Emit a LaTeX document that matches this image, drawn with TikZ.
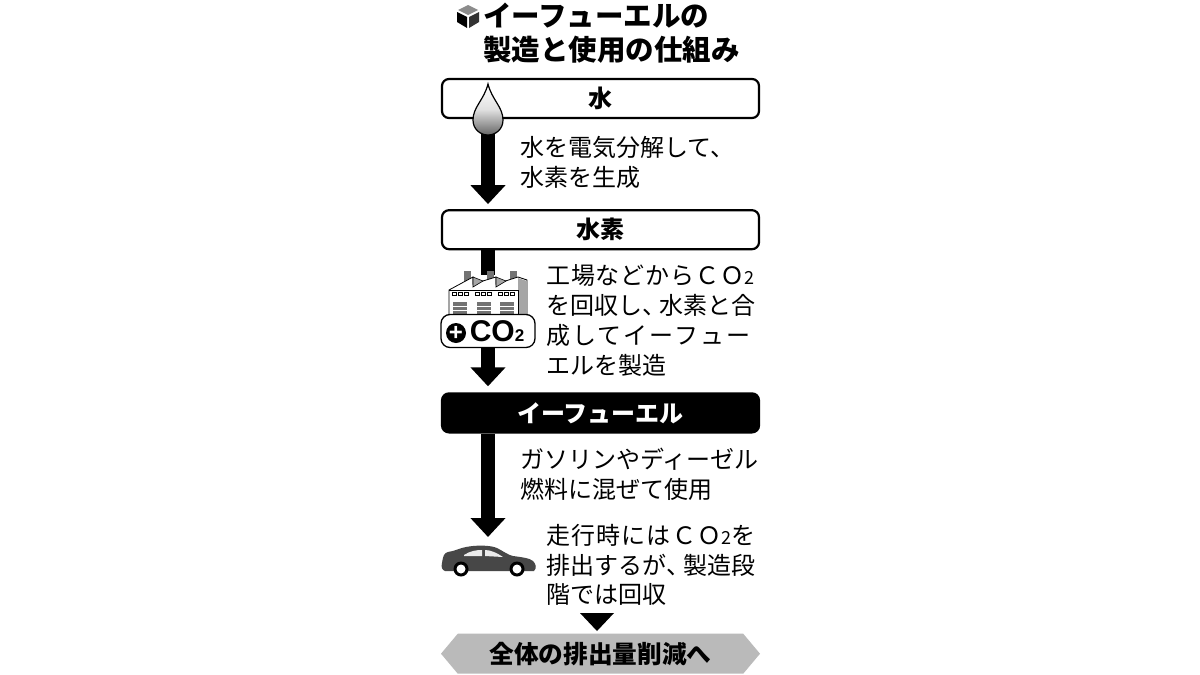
\documentclass[tikz,border=0pt]{standalone}
\usepackage{fontspec}
\setmainfont{Noto Sans CJK JP}
\newfontfamily\latinbold{Liberation Sans}[BoldFont={Liberation Sans Bold}]
\usetikzlibrary{positioning,arrows.meta,shapes.symbols}
\newcommand{\cotwo}{ＣＯ{\fontsize{18}{18}\selectfont 2}}
\newcommand{\tightcomma}{\makebox[17pt][l]{、}}
\newcommand{\spaced}[2]{{\addfontfeature{LetterSpace=#1}#2}}
\begin{document}
\begin{tikzpicture}[
  x=1pt, y=-1pt,
  flowbox/.style={draw=black, line width=2.2pt, rounded corners=7pt, fill=white, minimum width=317pt, minimum height=39pt, inner sep=0pt, font=\fontsize{24}{28}\selectfont\bfseries},
  fuelbox/.style={flowbox, fill=black, text=white},
  endbox/.style={signal, signal to=east and west, signal pointer angle=100, fill=black!27, minimum width=319pt, minimum height=40pt, inner sep=0pt, font=\fontsize{24.7}{28}\selectfont\bfseries},
  note/.style={align=left, inner sep=0pt, anchor=west, font=\fontsize{24}{29.7}\selectfont},
  flowarrow/.style={line width=14pt, -{Triangle[width=34pt,length=19pt]}, black},
  >=stealth
]
\useasboundingbox (0,0) rectangle (1200,675);
\fill[white] (0,0) rectangle (1200,675);
% title
\node[align=left, inner sep=0pt, anchor=west, font=\fontsize{28.5}{34}\selectfont\bfseries] (title) at (483,33) {イーフューエルの\\製造と使用の仕組み};
\fill[black!45] (468,5) -- (478,10) -- (468,15) -- (458,10) -- cycle;
\fill[black] (457,12) -- (467,17) -- (467,28) -- (457,22) -- cycle;
\fill[black!80] (479,12) -- (469,17) -- (469,28) -- (479,22) -- cycle;
% boxes
\node[flowbox] (water) at (600.5,98.5) {水};
\node[flowbox, below=90pt of water] (hydrogen) {水素};
\node[fuelbox, below=142pt of hydrogen] (efuel) {イーフューエル};
\node[endbox, below=200pt of efuel] (result) {全体の排出量削減へ};
\coordinate (drop) at (488,130);
\coordinate (factorytop) at (488,275);
\coordinate (car) at (488,537);
% arrows
\draw[flowarrow, shorten >=5pt] (drop) -- (drop |- hydrogen.north);
\draw[black, line width=14pt] (factorytop |- hydrogen.south) -- (factorytop);
\draw[flowarrow] (efuel.south -| car) -- (car);
% water drop
\draw[black, line width=1.2pt, top color=white, bottom color=black!60, middle color=black!12] (488,84) .. controls (484,100) and (473,107) .. (473,120) .. controls (473,129) and (480,135) .. (488,135) .. controls (496,135) and (503,129) .. (503,120) .. controls (503,107) and (492,100) .. (488,84) -- cycle;
% factory
\fill[black!55] (464,271) rectangle (471,282);
\fill[black!55] (487,271) rectangle (494,282);
\fill[black!55] (510,271) rectangle (517,282);
\draw[black, line width=0.8pt, fill=white] (449,290) -- (473,277) -- (473,284) -- (496,277) -- (496,284) -- (518,277) -- (527,280) -- (527,316) -- (449,316) -- cycle;
\draw[black, line width=0.6pt, fill=black!35] (473,277) -- (483,281) -- (473,287) -- cycle;
\draw[black, line width=0.6pt, fill=black!35] (496,277) -- (506,281) -- (496,287) -- cycle;
\fill[black!35] (518,278) -- (527,281) -- (527,316) -- (518,316) -- cycle;
\draw[black, line width=0.8pt] (449,290) -- (518,290) -- (518,316);
\foreach \winx in {452,458,464,475,481,487,498,504,510} {
  \draw[black, line width=0.7pt] (\winx,292) rectangle ++(4,3);
}
\foreach \doorx in {453,477,500} {
  \fill[black!55] (\doorx,302) rectangle ++(14,14);
  \draw[white, line width=0.8pt] (\doorx,306) -- ++(14,0) (\doorx,310) -- ++(14,0);
}
% plus CO2 label
\node[draw=black, line width=1.3pt, rounded corners=9pt, fill=white, minimum width=94pt, minimum height=33pt, inner sep=0pt, font=\latinbold\fontsize{30}{30}\selectfont\bfseries] (co2) at (488,331) {\hspace{18pt}CO{\fontsize{17}{17}\selectfont 2}};
\node[circle, fill=black, text=white, minimum size=20pt, inner sep=0pt, font=\latinbold\fontsize{24}{24}\selectfont\bfseries] (plus) at (456,333) {+};
\draw[flowarrow, shorten >=6pt] (co2.south) -- (co2.south |- efuel.north);
% car
\fill[black!72] (442,563) .. controls (443,556) and (444,553) .. (448,552) .. controls (455,551) and (460,548) .. (466,547) .. controls (476,545) and (490,545) .. (497,548) .. controls (503,551) and (508,555) .. (513,556) .. controls (520,557) and (530,558) .. (533,561) .. controls (536,564) and (537,568) .. (534,571) -- (445,571) .. controls (442,570) and (441,567) .. (442,563) -- cycle;
\fill[black!8] (464,555) .. controls (470,551) and (476,550) .. (482,550) -- (482,556) -- (464,556) -- cycle;
\fill[black!8] (485,550) .. controls (491,550) and (497,553) .. (503,557) -- (485,556) -- cycle;
\foreach \wheelx in {461,517} {
  \fill[black] (\wheelx,569) circle (7.5);
  \fill[white] (\wheelx,569) circle (4.5);
}
% triangle
\fill[black] (580,613) -- (614,613) -- (597,631) -- cycle;
% notes
\node[note] (note1) at (520,162.5) {水を電気分解して、\\水素を生成};
\node[note] (note2) at (546,320.5) {\spaced{3.5}{工場などから\cotwo}\\を回収し\tightcomma 水素と合\\\spaced{8.5}{成してイーフュー}\\エルを製造};
\node[note] (note3) at (520,474) {ガソリンやディーゼル\\燃料に混ぜて使用};
\node[note] (note4) at (546,565) {\spaced{5}{走行時には\cotwo を}\\排出するが\tightcomma 製造段\\階では回収};
\end{tikzpicture}
\end{document}
